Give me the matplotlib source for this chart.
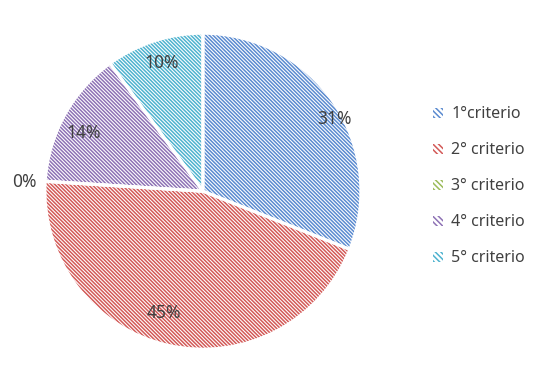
import matplotlib.pyplot as plt
import matplotlib.patches as mpatches
import numpy as np

plt.rcParams["font.family"] = ["Noto Sans", "DejaVu Sans"]
plt.rcParams["hatch.linewidth"] = 1.1

categories = ["1°criterio", "2° criterio", "3° criterio", "4° criterio", "5° criterio"]
values = [31, 45, 0, 14, 10]
pct_labels = ["31%", "45%", "0%", "14%", "10%"]
colors = ["#5B8BD0", "#D35A58", "#9BBB59", "#8E72B5", "#4FB3CF"]

HATCH = "\\" * 9

fig = plt.figure(figsize=(5.5, 3.87), dpi=100)
ax = fig.add_axes([0.369 - 0.2873, 0.506 - 0.4083, 0.5745, 0.8165])

wedges, _ = ax.pie(values, colors=["white"] * len(values), startangle=90,
                   counterclock=False, radius=1.0)
for w, c in zip(wedges, colors):
    w.set_edgecolor(c)
    w.set_hatch(HATCH)
    w.set_linewidth(0)

# white separators on top
ax.pie(values, colors=["none"] * len(values), startangle=90,
       counterclock=False, radius=1.0,
       wedgeprops=dict(edgecolor="white", linewidth=2.2))

# label placement (radius fraction, angle shift in degrees)
label_pos = [(0.95, -5.6), (0.81, -5.4), (1.13, 0.6), (0.84, 2.8), (0.85, 0.0)]
for w, txt, (r, shift) in zip(wedges, pct_labels, label_pos):
    ang = np.deg2rad((w.theta1 + w.theta2) / 2 + shift)
    ax.text(r * np.cos(ang), r * np.sin(ang), txt, ha="center", va="center",
            fontsize=12.5, color="#404040", clip_on=False)

ax.set_xlim(-1, 1)
ax.set_ylim(-1, 1)
ax.set_aspect("equal")
ax.axis("off")

handles = [mpatches.Patch(facecolor="white", edgecolor=c, hatch="\\" * 6, linewidth=0)
           for c in colors]
fig.legend(handles, categories, loc="upper left", bbox_to_anchor=(0.762, 0.762),
           frameon=False, fontsize=11.5, labelcolor="#404040",
           handlelength=0.6, handleheight=0.6, handletextpad=0.5, labelspacing=1.25)

fig.savefig("out.png", dpi=100)
